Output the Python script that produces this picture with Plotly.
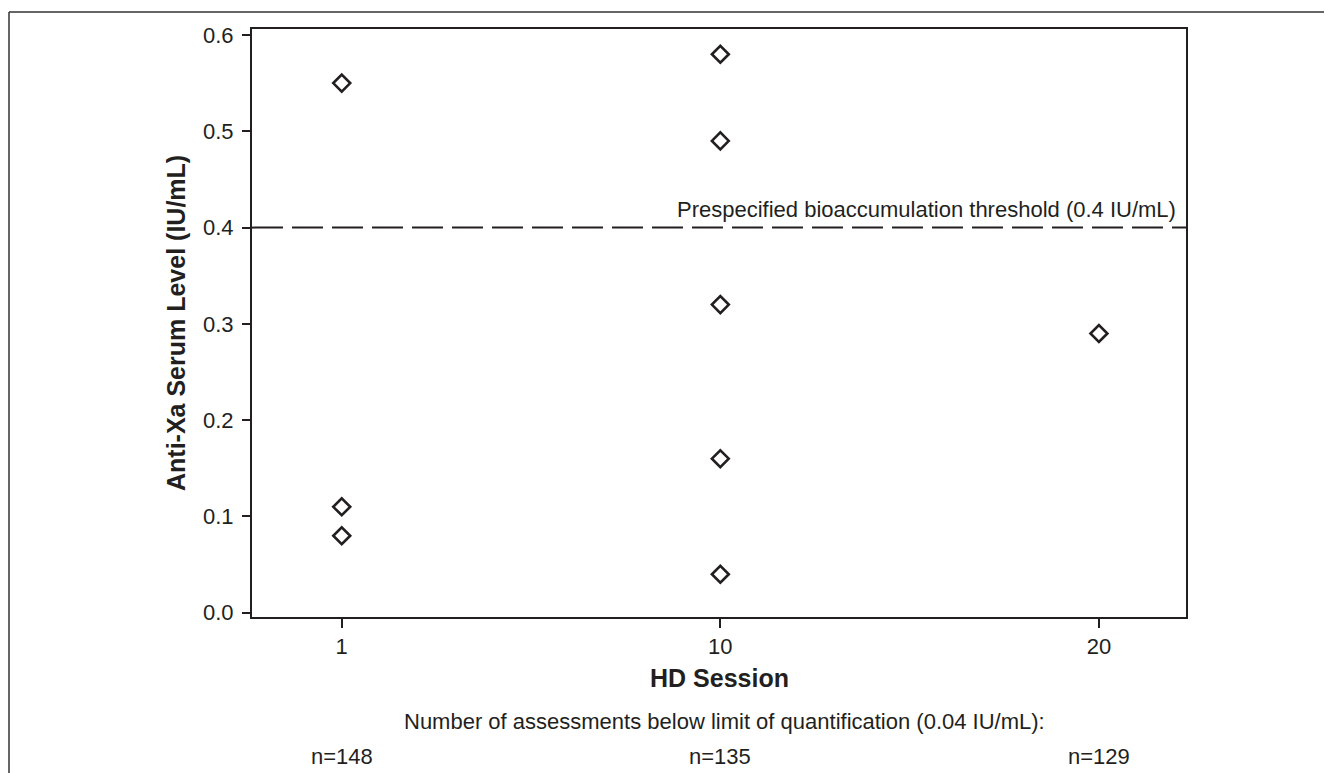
import plotly.graph_objects as go

# ---- data ----
sessions = ["1", "10", "20"]
point_session = ["1", "1", "1", "10", "10", "10", "10", "10", "20"]
anti_xa = [0.55, 0.11, 0.08, 0.58, 0.49, 0.32, 0.16, 0.04, 0.29]
below_loq = ["n=148", "n=135", "n=129"]
threshold = 0.4
y_ticks = [0.0, 0.1, 0.2, 0.3, 0.4, 0.5, 0.6]

INK = "#231f20"
FONT = "Liberation Sans, Arial, sans-serif"

OFF = 8  # page body margin
W, H = 1332 - OFF, 773 - OFF
# plot-area edges in page pixels
PL, PR, PT, PB = 252, 1186, 29, 617
L, R, T, B = PL - OFF, PR - OFF, PT - OFF, PB - OFF

fig = go.Figure()
fig.add_trace(go.Scatter(
    x=point_session, y=anti_xa, mode="markers",
    marker=dict(symbol="diamond-open", size=13, color=INK,
                line=dict(color=INK, width=2.6)),
    showlegend=False, hoverinfo="x+y",
))

def px_x(p):  # page px -> paper
    return (p - PL) / (PR - PL)

def px_y(p):
    return (PB - p) / (PB - PT)

shapes = [
    dict(type="line", xref="paper", yref="y", x0=0, x1=1, y0=threshold, y1=threshold,
         line=dict(color=INK, width=2, dash="31px,9px")),
    dict(type="line", xref="paper", yref="paper", x0=px_x(9), x1=px_x(9),
         y0=px_y(12), y1=px_y(800), line=dict(color="#333333", width=1.5)),
    dict(type="line", xref="paper", yref="paper", x0=px_x(9), x1=px_x(1340),
         y0=px_y(12), y1=px_y(12), line=dict(color="#333333", width=1.5)),
]

annotations = [
    dict(text="Prespecified bioaccumulation threshold (0.4 IU/mL)", xref="paper", yref="paper",
         x=px_x(1178), y=px_y(209), xanchor="right", yanchor="middle", showarrow=False,
         font=dict(size=22, color=INK, family=FONT)),
    dict(text="<b>Anti-Xa Serum Level (IU/mL)</b>", xref="paper", yref="paper",
         x=px_x(176), y=px_y(323), xanchor="center", yanchor="middle", textangle=-90,
         showarrow=False, font=dict(size=25, color=INK, family=FONT)),
    dict(text="<b>HD Session</b>", xref="paper", yref="paper",
         x=px_x(719), y=px_y(678), xanchor="center", yanchor="middle", showarrow=False,
         font=dict(size=25, color=INK, family=FONT)),
    dict(text="Number of assessments below limit of quantification (0.04 IU/mL):",
         xref="paper", yref="paper", x=px_x(724), y=px_y(721), xanchor="center",
         yanchor="middle", showarrow=False, font=dict(size=22, color=INK, family=FONT)),
]
for i, n in enumerate(below_loq):
    annotations.append(dict(text=n, xref="x", yref="paper", x=i, y=px_y(756),
                            xanchor="center", yanchor="middle", showarrow=False,
                            font=dict(size=22, color=INK, family=FONT)))

fig.update_layout(
    width=W, height=H,
    margin=dict(l=L, r=W - R, t=T, b=H - B, pad=0),
    paper_bgcolor="white", plot_bgcolor="white",
    font=dict(family=FONT, size=22, color=INK),
    shapes=shapes, annotations=annotations,
    xaxis=dict(type="category", categoryorder="array", categoryarray=sessions,
               range=[-0.237, 2.23], showgrid=False, zeroline=False,
               showline=True, linecolor=INK, linewidth=2, mirror=True,
               ticks="outside", ticklen=9, tickwidth=1.5, tickcolor=INK,
               tickfont=dict(size=22, color=INK, family=FONT)),
    yaxis=dict(range=[-0.0044, 0.6062], tickvals=y_ticks, tickformat=".1f",
               showgrid=False, zeroline=False,
               showline=True, linecolor=INK, linewidth=2, mirror=True,
               ticks="outside", ticklen=8, tickwidth=1.5, tickcolor=INK,
               ticklabelstandoff=4,
               tickfont=dict(size=22, color=INK, family=FONT)),
)

fig.write_html("out.html")
